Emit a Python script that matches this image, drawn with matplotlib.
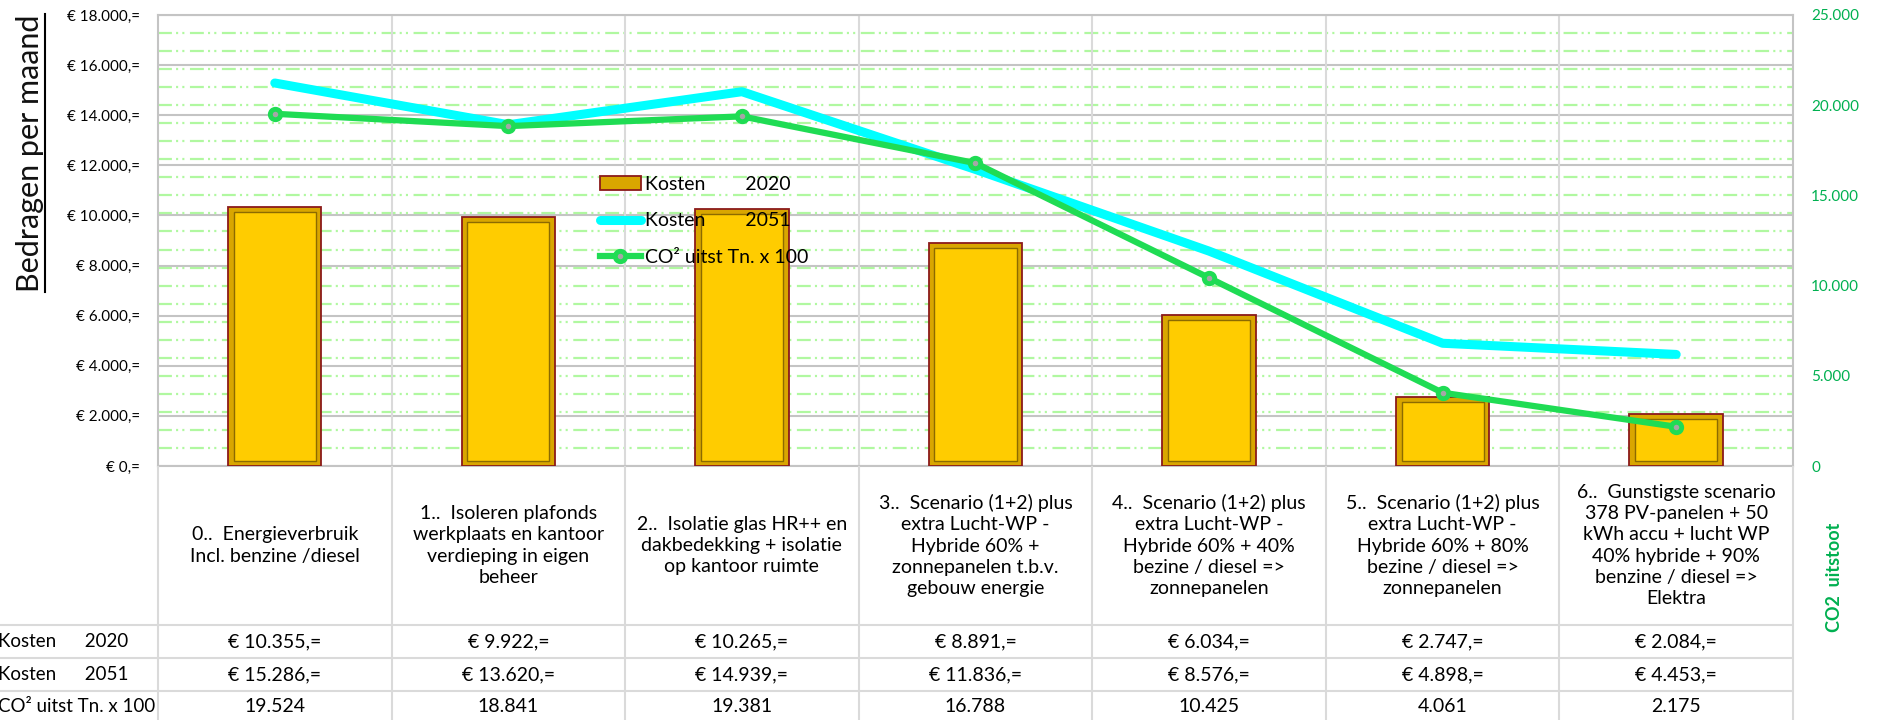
import matplotlib
matplotlib.use("Agg")
import matplotlib.pyplot as plt
import numpy as np
from matplotlib.lines import Line2D
from matplotlib.transforms import blended_transform_factory

plt.rcParams['font.family'] = ['Lato', 'DejaVu Sans']
plt.rcParams['lines.scale_dashes'] = False

# data
categories = [
    "0..  Energieverbruik\nIncl. benzine /diesel",
    "1..  Isoleren plafonds\nwerkplaats en kantoor\nverdieping in eigen\nbeheer",
    "2..  Isolatie glas HR++ en\ndakbedekking + isolatie\nop kantoor ruimte",
    "3..  Scenario (1+2) plus\nextra Lucht-WP -\nHybride 60% +\nzonnepanelen t.b.v.\ngebouw energie",
    "4..  Scenario (1+2) plus\nextra Lucht-WP -\nHybride 60% + 40%\nbezine / diesel =>\nzonnepanelen",
    "5..  Scenario (1+2) plus\nextra Lucht-WP -\nHybride 60% + 80%\nbezine / diesel =>\nzonnepanelen",
    "6..  Gunstigste scenario\n378 PV-panelen + 50\nkWh accu + lucht WP\n40% hybride + 90%\nbenzine / diesel =>\nElektra",
]
kosten_2020 = [10355, 9922, 10265, 8891, 6034, 2747, 2084]
kosten_2051 = [15286, 13620, 14939, 11836, 8576, 4898, 4453]
co2_uitstoot = [19524, 18841, 19381, 16788, 10425, 4061, 2175]

legend_labels = ["Kosten        2020", "Kosten        2051", "CO² uitst Tn. x 100"]
row_labels = ["Kosten      2020", "Kosten      2051", "CO² uitst Tn. x 100"]

left_ticks = list(range(0, 18001, 2000))
right_ticks = list(range(0, 25001, 5000))


def dots(v):
    return f"{v:,}".replace(",", ".")


def eur(v):
    return "€ " + dots(v) + ",="


W, H = 1881, 720
L, R, T, B = 158, 1793, 15, 466   # plot area, pixels
fig = plt.figure(figsize=(W / 100, H / 100), dpi=100)
ax = fig.add_axes([L / W, 1 - B / H, (R - L) / W, (B - T) / H])
ax2 = ax.twinx()

x = np.arange(len(categories))
grey = '#C4C4C4'
light = '#DADADA'
green_txt = '#00B050'

# grids
ax.set_yticks(left_ticks)
ax.yaxis.grid(True, color=grey, lw=1.5)
ax.set_axisbelow(True)
minor_tr = blended_transform_factory(ax.transAxes, ax2.transData)
ax.hlines(np.arange(1000, 25000, 1000), 0, 1, transform=minor_tr,
          color='#B0F8A0', lw=1.6, linestyle=(0, (10, 3, 1.5, 3, 1.5, 4)),
          zorder=1)
ax.vlines(np.arange(0.5, len(x) - 1, 1), 0, 18000, color=light, lw=1.5, zorder=1)
for s in ax.spines.values():
    s.set_color(grey)
    s.set_linewidth(1.5)
for s in ax2.spines.values():
    s.set_visible(False)

# bevelled bars
inset = 200
bars = ax.bar(x, kosten_2020, width=0.40, color='#D9A600', edgecolor='#8B1A1A',
              lw=1.3, zorder=3)
ax.bar(x, np.array(kosten_2020) - 2 * inset, bottom=inset, width=0.40 * 0.88,
       color='#FFCC00', edgecolor='#8C6A00', lw=1.0, zorder=3)

ln1, = ax2.plot(x, np.array(kosten_2051) * 25000 / 18000, color='#00FFFF', lw=6.5,
                solid_capstyle='round', zorder=4)
ln2, = ax2.plot(x, co2_uitstoot, color='#1FDC54', lw=4.5, marker='o', ms=7.5,
                mew=3.5, mfc='#A6A6A6', mec='#1FDC54', zorder=5)

ax.set_xlim(-0.5, len(x) - 0.5)
ax.set_ylim(0, 18000)
ax2.set_ylim(0, 25000)
ax.set_xticks([])
ax.set_yticklabels([eur(v) for v in left_ticks])
ax.tick_params(axis='y', length=0, pad=13, labelsize=11)
ax2.set_yticks(right_ticks)
ax2.set_yticklabels([dots(v) for v in right_ticks])
ax2.tick_params(axis='y', length=0, pad=13, labelsize=11, labelcolor=green_txt)

fig.legend([bars, ln1, ln2], legend_labels,
           loc='upper left', bbox_to_anchor=(600 / W, 1 - 176 / H),
           frameon=False, fontsize=14, borderpad=0, borderaxespad=0,
           handlelength=2.1, handletextpad=0.2, labelspacing=1.0)

# axis titles
yl = fig.text(30 / W, 1 - 153 / H, "Bedragen per maand", rotation=90,
              fontsize=22, ha='center', va='center', color='#111111')
fig.text(1835 / W, 1 - 577 / H, "CO2  uitstoot", rotation=90, fontsize=13,
         fontweight='bold', color=green_txt, ha='center', va='center')

# data table under the plot
colw = (R - L) / len(x)
tab = fig.add_axes([0, 0, R / W, (H - B) / H])
xmin = -0.5 - L / colw
tab.set_xlim(xmin, len(x) - 0.5)
tab.set_ylim(H - B, 0)
tab.axis('off')
rows = [159, 192, 225]
tab.hlines(rows, xmin, len(x) - 0.5, color=light, lw=1.5, clip_on=False)
tab.vlines(np.arange(-0.5, len(x)), 0, H - B, color=light, lw=1.5, clip_on=False)

for i, lab in enumerate(categories):
    tab.text(i, 79.5, lab, ha='center', va='center', fontsize=14,
             linespacing=1.3, multialignment='center')
    tab.text(i, 175.5, eur(kosten_2020[i]), ha='center', va='center', fontsize=14)
    tab.text(i, 208.5, eur(kosten_2051[i]), ha='center', va='center', fontsize=14)
    tab.text(i, 240, dots(co2_uitstoot[i]), ha='center', va='center', fontsize=14)
for y, lab in zip([175.5, 208.5, 240], row_labels):
    tab.text(xmin - 0.01, y, lab, ha='left', va='center', fontsize=13.5)

# underline of the left axis title
fig.canvas.draw()
bb = yl.get_window_extent()
fig.add_artist(Line2D([(bb.x1 + 1) / W] * 2, [bb.y0 / H, bb.y1 / H],
                      color='black', lw=1.5))

fig.savefig("out.png", dpi=100)
